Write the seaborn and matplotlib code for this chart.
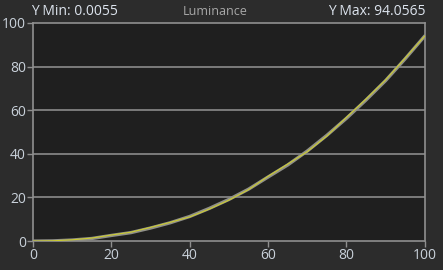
import matplotlib
matplotlib.use("Agg")
import matplotlib.pyplot as plt
import seaborn as sns
import pandas as pd

# Data
x_vals = [0, 5, 10, 15, 20, 25, 30, 35, 40, 45, 50, 55, 60, 65, 70, 75, 80, 85, 90, 95, 100]
target_vals = [0.0, 0.1, 0.5, 1.2, 2.6, 3.9, 6.0, 8.4, 11.3, 15.0, 19.1, 23.8, 29.4,
               34.9, 41.3, 48.5, 56.3, 64.7, 73.6, 83.6, 94.06]
measured_vals = [0.0055, 0.15, 0.6, 1.4, 2.8, 4.1, 6.3, 8.6, 11.1, 14.7, 18.8, 23.6, 29.7,
                 35.3, 41.0, 48.2, 56.7, 65.1, 73.9, 83.9, 94.0565]
x_ticks = [0, 20, 40, 60, 80, 100]
y_ticks = [0, 20, 40, 60, 80, 100]
title_left = "Y Min: 0.0055"
title_center = "Luminance"
title_right = "Y Max: 94.0565"

sns.set_style("dark")
plt.rcParams['font.family'] = ['Open Sans', 'DejaVu Sans']

fig_bg = "#2c2c2c"
ax_bg = "#1f1f1f"
txt = "#c9d1da"

fig = plt.figure(figsize=(4.43, 2.70), dpi=100, facecolor=fig_bg)
ax = fig.add_axes([0.0745, 0.107, 0.8845, 0.808])
ax.set_facecolor(ax_bg)

df_t = pd.DataFrame({"x": x_vals, "y": target_vals})
df_m = pd.DataFrame({"x": x_vals, "y": measured_vals})
sns.lineplot(data=df_t, x="x", y="y", ax=ax, color="#909088", linewidth=2.4, zorder=3)
sns.lineplot(data=df_m, x="x", y="y", ax=ax, color="#cccc30", linewidth=0.8, zorder=4)

ax.set_xlim(0, 100)
ax.set_ylim(0, 100)
ax.set_xticks(x_ticks)
ax.set_yticks(y_ticks)
ax.set_xlabel("")
ax.set_ylabel("")
ax.grid(False)
for yt in y_ticks[1:-1]:
    ax.axhline(yt, color="#8a8a8a", linewidth=1.2, zorder=1)

for s in ax.spines.values():
    s.set_visible(True)
    s.set_color("#8f8f8f")
    s.set_linewidth(1.2)

ax.tick_params(axis="both", colors="#8f8f8f", labelcolor=txt, labelsize=10,
               length=4, width=1.0, direction="out", bottom=True, left=True, pad=1)

fig.text(0.07, 0.93, title_left, color="#dde4ee", fontsize=10, ha="left", va="bottom")
fig.text(0.485, 0.935, title_center, color="#a8a8a8", fontsize=9, ha="center", va="bottom")
fig.text(0.96, 0.93, title_right, color="#dde4ee", fontsize=10, ha="right", va="bottom")

fig.savefig("out.png", dpi=100, facecolor=fig_bg)
